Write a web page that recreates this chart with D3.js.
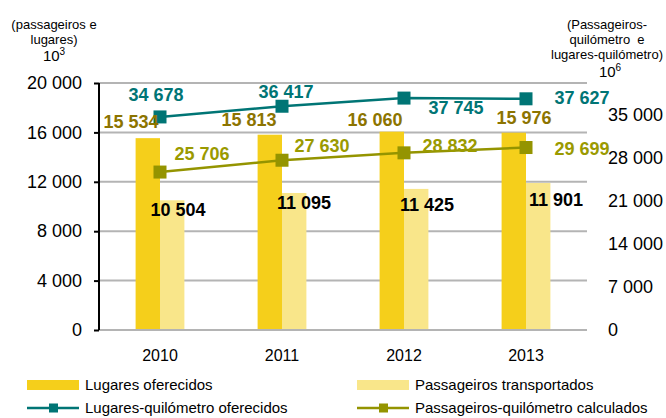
<!DOCTYPE html>
<html>
<head>
<meta charset="utf-8">
<script src="https://cdn.jsdelivr.net/npm/d3@7"></script>
<style>
  html, body { margin: 0; padding: 0; background: #fff; }
  svg { display: block; font-family: "Liberation Sans", Arial, sans-serif; }
</style>
</head>
<body>
<svg id="chart" width="666" height="418"></svg>
<script>
// Years and series
const years = ["2010", "2011", "2012", "2013"];
const lugaresOferecidos = [15534, 15813, 16060, 15976];          // 10^3
const passageirosTransportados = [10504, 11095, 11425, 11901];   // 10^3
const lugaresKm = [34678, 36417, 37745, 37627];                  // 10^6
const passageirosKm = [25706, 27630, 28832, 29699];              // 10^6
const leftTicks = [0, 4000, 8000, 12000, 16000, 20000];
const rightTicks = [0, 7000, 14000, 21000, 28000, 35000];

// Label placement offsets (px) relative to each mark
const offLugares = [[-29, -16], [-33, -15], [-29, -12], [-2, -15]];
const offPass = [[18, 9], [22, 10], [23, 16], [30, 17]];
const offLugKm = [[-4, -22], [4, -15], [52, 10], [56, -1]];
const offPassKm = [[42, -18], [40, -15], [46, -7], [56, 1]];

const C = {
  lug: "#F5CF1B", pass: "#F9E68A", teal: "#007575", olive: "#949400",
  lugText: "#8C7400", oliveText: "#9A9A00", grid: "#B4B4B4"
};

const fmt = v => d3.format(",")(v).replace(/,/g, " ");

const svg = d3.select("#chart");
const L = 99, R = 587, T = 83, B = 330;

const x = d3.scaleBand().domain(years).range([L, R]).paddingInner(0.6).paddingOuter(0.3);
const xs = d3.scaleBand().domain(["lug", "pass"]).range([0, x.bandwidth()]);
const y = d3.scaleLinear().domain([0, 20000]).range([B, T]);
const y2 = d3.scaleLinear().domain([0, 40200]).range([B, T]);
const cx = yr => x(yr) + x.bandwidth() / 2;

// Grid lines
svg.append("g").selectAll("line").data(leftTicks).join("line")
  .attr("x1", L).attr("x2", R)
  .attr("y1", d => y(d)).attr("y2", d => y(d))
  .attr("stroke", C.grid).attr("stroke-width", 2);

// Bars
const bars = svg.append("g");
bars.selectAll(".lug").data(years).join("rect")
  .attr("x", d => x(d) + xs("lug")).attr("width", xs.bandwidth())
  .attr("y", (d, i) => y(lugaresOferecidos[i]))
  .attr("height", (d, i) => B - y(lugaresOferecidos[i]) - 1)
  .attr("fill", C.lug);
bars.selectAll(".pass").data(years).join("rect")
  .attr("x", d => x(d) + xs("pass")).attr("width", xs.bandwidth())
  .attr("y", (d, i) => y(passageirosTransportados[i]))
  .attr("height", (d, i) => B - y(passageirosTransportados[i]) - 1)
  .attr("fill", C.pass);

// Left axis
const gl = svg.append("g").attr("transform", `translate(${L},0)`)
  .call(d3.axisLeft(y).tickValues(leftTicks).tickFormat(fmt).tickSize(5).tickPadding(12));
gl.select(".domain").attr("stroke", "#000").attr("stroke-width", 2).attr("d", `M0,${B}V${T}`);
gl.selectAll(".tick line").attr("stroke", "#000").attr("stroke-width", 2);
gl.selectAll("text").attr("font-size", 18).attr("fill", "#000").attr("font-family", "Liberation Sans, Arial, sans-serif");

// Right axis (labels only)
const gr = svg.append("g").attr("transform", `translate(608,0)`)
  .call(d3.axisRight(y2).tickValues(rightTicks).tickFormat(fmt).tickSize(0).tickPadding(0));
gr.select(".domain").remove();
gr.selectAll("text").attr("font-size", 18).attr("fill", "#000").attr("font-family", "Liberation Sans, Arial, sans-serif");

// Bottom category labels
svg.append("g").selectAll("text").data(years).join("text")
  .attr("x", d => cx(d)).attr("y", 361)
  .attr("text-anchor", "middle").attr("font-size", 16).text(d => d);

// Lines with square markers
function series(vals, color) {
  const g = svg.append("g");
  const line = d3.line().x((d, i) => cx(years[i])).y(d => y2(d));
  g.append("path").attr("d", line(vals)).attr("fill", "none")
    .attr("stroke", color).attr("stroke-width", 2.5);
  g.selectAll("rect").data(vals).join("rect")
    .attr("x", (d, i) => cx(years[i]) - 6.5).attr("y", d => y2(d) - 6.5)
    .attr("width", 13).attr("height", 13).attr("fill", color);
}
series(lugaresKm, C.teal);
series(passageirosKm, C.olive);

// Data labels
function labels(vals, xf, yf, off, color) {
  svg.append("g").selectAll("text").data(vals).join("text")
    .attr("x", (d, i) => xf(i) + off[i][0])
    .attr("y", (d, i) => yf(d) + off[i][1])
    .attr("dy", "0.35em").attr("text-anchor", "middle")
    .attr("font-size", 18).attr("font-weight", "bold").attr("fill", color)
    .text(fmt);
}
labels(lugaresOferecidos, i => cx(years[i]), y, offLugares, C.lugText);
labels(passageirosTransportados, i => cx(years[i]), y, offPass, "#000");
labels(lugaresKm, i => cx(years[i]), y2, offLugKm, C.teal);
labels(passageirosKm, i => cx(years[i]), y2, offPassKm, C.oliveText);

// Axis titles
const tl = svg.append("g").attr("text-anchor", "middle").attr("font-size", 13);
tl.append("text").attr("x", 54).attr("y", 29).text("(passageiros e");
tl.append("text").attr("x", 54).attr("y", 44).text("lugares)");
const t3 = tl.append("text").attr("x", 54).attr("y", 61).attr("font-size", 15);
t3.append("tspan").text("10");
t3.append("tspan").attr("dy", -6).attr("font-size", 10).text("3");

const tr = svg.append("g").attr("text-anchor", "middle").attr("font-size", 13);
tr.append("text").attr("x", 607).attr("y", 29).text("(Passageiros-");
tr.append("text").attr("x", 607).attr("y", 44).attr("xml:space", "preserve").text("quilómetro  e");
tr.append("text").attr("x", 607).attr("y", 59).text("lugares-quilómetro)");
const t6 = tr.append("text").attr("x", 610).attr("y", 77).attr("font-size", 15);
t6.append("tspan").text("10");
t6.append("tspan").attr("dy", -6).attr("font-size", 10).text("6");

// Legend
const legend = [
  { label: "Lugares oferecidos", type: "bar", color: C.lug, x: 27, y: 385 },
  { label: "Passageiros transportados", type: "bar", color: C.pass, x: 357, y: 385 },
  { label: "Lugares-quilómetro oferecidos", type: "line", color: C.teal, x: 27, y: 408 },
  { label: "Passageiros-quilómetro calculados", type: "line", color: C.olive, x: 357, y: 408 }
];
const lg = svg.append("g").selectAll("g").data(legend).join("g")
  .attr("transform", d => `translate(${d.x},${d.y})`);
lg.filter(d => d.type === "bar").append("rect")
  .attr("x", 0).attr("y", -5).attr("width", 52).attr("height", 10).attr("fill", d => d.color);
lg.filter(d => d.type === "line").append("line")
  .attr("x1", 0).attr("x2", 52).attr("y1", 0).attr("y2", 0)
  .attr("stroke", d => d.color).attr("stroke-width", 2.5);
lg.filter(d => d.type === "line").append("rect")
  .attr("x", 22).attr("y", -4.5).attr("width", 9).attr("height", 9).attr("fill", d => d.color);
lg.append("text").attr("x", 58).attr("y", 0).attr("dy", "0.35em")
  .attr("font-size", 15).text(d => d.label);
</script>
</body>
</html>
